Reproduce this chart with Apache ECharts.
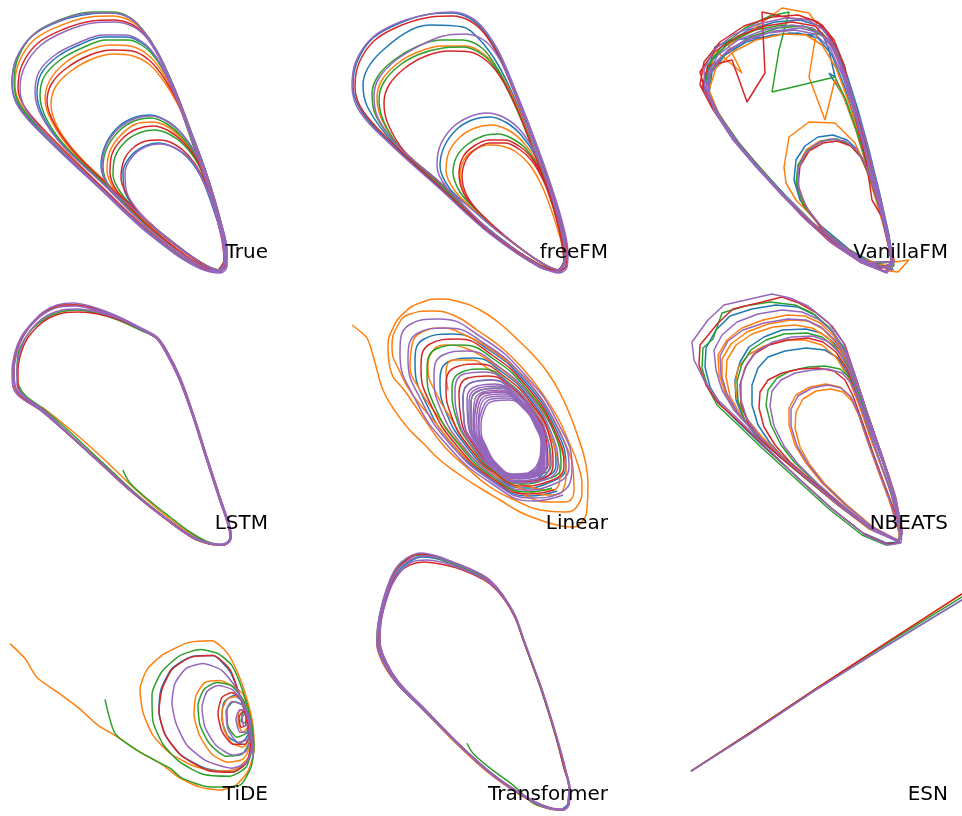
<!DOCTYPE html>
<html>
<head>
<meta charset="utf-8">
<script src="https://cdn.jsdelivr.net/npm/echarts@6/dist/echarts.min.js"></script>
<style>
html, body { margin: 0; padding: 0; background: #fff; }
#chart { width: 962px; height: 816px; }
</style>
</head>
<body>
<div id="chart"></div>
<script>
// trajectories, in page pixels (x right, y down)
var trueB = [[222,271],[200,268],[150,234],[100,188],[50,141],[20,108],[12,84],[16,60],[32,36],[60,21],[90,14],[111,13],[128,17],[141,28],[157,51],[173,85],[190,129],[207,175],[220,219],[227,252],[226,266],[219,271],
  [198,265],[150,229],[102,182],[64,146],[44,118],[37,94],[41,74],[57,57],[79,45],[104,37],[126,37],[146,46],[161,65],[176,96],[192,141],[208,187],[221,227],[226,257],[219,270],
  [200,262],[160,232],[130,206],[110,188],[101,166],[105,146],[117,128],[133,118],[150,115],[167,121],[182,134],[196,155],[208,186],[220,226],[225,256],[219,270],
  [200,262],[165,237],[139,213],[125,192],[123,172],[130,157],[143,147],[158,143],[173,147],[188,158],[201,177],[213,208],[223,243],[224,262],[218,270]];
var trueO = [[221,271],[199,267],[150,232],[100,186],[52,140],[23,108],[15,86],[19,62],[35,39],[62,25],[90,17],[112,16],[129,20],[143,31],[158,54],[174,87],[190,130],[207,176],[220,219],[226,251],[225,265],[219,271],
  [198,264],[150,228],[106,184],[72,151],[52,122],[45,99],[50,80],[65,63],[86,51],[110,45],[130,46],[148,55],[163,73],[178,102],[193,143],[209,188],[221,228],[225,257],[219,270],
  [200,262],[161,233],[134,208],[115,190],[107,170],[110,151],[121,135],[136,124],[152,122],[168,127],[183,140],[197,160],[209,190],[220,228],[225,257],[219,270],
  [198,264],[152,228],[111,187],[79,156],[58,128],[51,104],[56,86],[71,71],[92,59],[114,54],[133,56],[150,65],[165,83],[180,109],[194,147],[209,191],[221,230],[225,258],[218,270]];
var trueG = [[222,272],[200,268],[150,233],[100,187],[51,140],[21,107],[14,83],[18,58],[34,34],[62,19],[92,12],[113,12],[129,17],[142,29],[157,51],[173,85],[190,129],[207,175],[220,219],[226,251],[225,266],[219,271],
  [199,265],[150,229],[104,183],[67,148],[47,120],[40,96],[44,77],[60,60],[82,48],[106,40],[128,40],[147,49],[162,68],[177,99],[192,142],[208,187],[221,227],[226,257],[219,270],
  [200,262],[163,235],[137,211],[121,193],[113,175],[115,157],[125,142],[139,133],[154,130],[169,134],[184,145],[198,164],[210,194],[221,231],[225,258],[219,270],
  [200,262],[160,232],[131,207],[111,189],[103,167],[107,148],[119,131],[134,121],[151,118],[167,124],[182,137],[196,157],[208,188],[220,227],[225,257],[219,270]];
var trueR = [[221,271],[199,267],[150,232],[101,186],[54,140],[26,109],[18,88],[22,65],[38,43],[64,29],[92,21],[113,20],[131,24],[145,35],[159,57],[175,90],[191,132],[207,177],[220,220],[226,251],[225,265],[219,271],
  [198,264],[151,228],[108,185],[76,154],[55,125],[47,101],[52,83],[68,67],[90,55],[112,50],[132,51],[149,60],[164,78],[179,105],[194,145],[209,190],[221,229],[225,257],[219,270],
  [200,263],[166,238],[140,214],[127,195],[121,178],[124,160],[133,148],[146,141],[160,140],[174,144],[188,155],[201,174],[213,205],[222,240],[224,262],[218,270],
  [200,262],[162,234],[135,209],[117,191],[110,172],[112,154],[123,138],[137,129],[153,126],[169,131],[184,143],[198,162],[209,192],[220,230],[225,257],[219,270]];
var trueP = [[223,272],[201,269],[150,235],[100,189],[50,142],[19,108],[12,84],[16,59],[33,35],[61,20],[91,13],[112,13],[128,17],[141,28],[157,51],[173,85],[190,129],[207,175],[220,219],[227,252],[227,266],[220,273],
  [200,268],[150,233],[100,187],[52,141],[26,110],[20,88],[25,66],[41,45],[66,31],[93,23],[114,22],[132,26],[146,37],[160,59],[175,91],[191,133],[207,177],[220,220],[226,251],[226,265],[219,271],
  [199,265],[150,230],[101,182],[63,146],[42,117],[35,93],[39,72],[55,55],[78,43],[103,35],[125,35],[145,44],[160,63],[175,95],[192,140],[208,187],[221,227],[226,257],[219,270],
  [200,262],[160,232],[130,206],[110,188],[102,166],[106,146],[118,129],[134,119],[151,116],[168,122],[183,135],[197,156],[208,186],[220,226],[225,256],[219,270],
  [200,262],[166,238],[141,214],[127,193],[125,173],[132,157],[145,147],[160,144],[175,148],[190,159],[202,178],[214,209],[223,244],[224,263],[218,271]];

var freeB = [[562,271],[540,267],[490,233],[440,188],[390,143],[362,112],[353,86],[357,62],[373,38],[400,23],[430,14],[452,13],[469,18],[483,30],[499,55],[514,90],[531,133],[548,180],[561,222],[567,253],[566,266],[559,271],
  [540,266],[490,230],[440,186],[395,145],[368,108],[363,85],[383,50],[430,25],[463,27],[480,40],[497,63],[514,97],[531,140],[548,186],[561,226],[566,256],[559,270],
  [540,262],[500,233],[470,207],[450,189],[440,166],[444,147],[456,130],[472,120],[490,117],[507,123],[522,136],[536,157],[548,188],[560,227],[565,257],[559,270]];
var freeO = [[561,271],[539,266],[490,231],[442,186],[400,148],[382,120],[377,98],[382,80],[398,63],[418,52],[442,46],[466,46],[485,55],[500,73],[515,102],[532,145],[548,190],[561,229],[565,257],[559,270],
  [540,262],[503,235],[478,212],[465,195],[460,176],[464,160],[474,150],[488,145],[502,146],[516,152],[529,164],[541,184],[552,212],[562,245],[564,264],[558,270],
  [540,262],[501,234],[473,209],[455,191],[446,171],[449,152],[460,137],[475,128],[491,125],[508,130],[523,142],[537,162],[549,192],[560,229],[565,257],[559,270]];
var freeG = [[561,271],[539,266],[490,231],[443,187],[402,150],[384,122],[379,100],[384,82],[400,65],[420,54],[443,48],[463,47],[483,55],[498,72],[513,101],[531,144],[548,190],[561,229],[565,257],[559,270],
  [540,265],[490,231],[444,186],[398,146],[376,116],[372,94],[378,76],[394,60],[416,47],[440,40],[462,40],[482,48],[497,68],[513,100],[530,142],[548,189],[561,228],[565,257],[559,270],
  [540,262],[502,234],[476,210],[460,192],[453,172],[457,156],[468,144],[483,136],[498,134],[513,139],[527,150],[540,170],[551,200],[561,237],[564,262],[558,270]];
var freeR = [[562,271],[540,267],[490,232],[440,187],[392,143],[363,111],[355,87],[359,63],[375,40],[402,25],[431,17],[453,16],[470,21],[484,33],[499,57],[514,92],[531,135],[548,181],[561,223],[567,253],[566,266],[559,271],
  [540,265],[490,231],[446,188],[405,152],[388,124],[384,103],[389,85],[405,68],[426,56],[449,51],[470,52],[488,62],[503,81],[518,111],[534,152],[549,195],[561,232],[565,258],[559,270],
  [540,262],[505,236],[480,213],[467,196],[462,177],[466,160],[476,149],[490,143],[505,143],[519,149],[532,161],[544,182],[554,210],[562,243],[564,264],[558,270],
  [540,262],[504,235],[478,211],[464,194],[459,174],[463,157],[474,146],[489,140],[505,140],[519,146],[532,158],[544,179],[554,209],[562,243],[564,264],[558,270]];
var freeP = [[563,272],[541,268],[490,234],[440,189],[390,144],[360,112],[352,86],[356,61],[373,37],[400,22],[430,14],[452,12],[470,17],[484,29],[500,54],[515,89],[532,132],[549,179],[562,221],[568,253],[567,267],[560,273],
  [540,266],[490,231],[444,186],[400,148],[378,118],[374,96],[379,78],[396,60],[419,46],[443,36],[465,34],[485,41],[500,60],[515,93],[532,137],[549,185],[562,226],[566,256],[559,270],
  [540,262],[500,233],[468,206],[447,188],[437,166],[440,146],[452,128],[469,117],[487,113],[505,118],[521,131],[535,153],[548,185],[560,226],[565,257],[559,270]];

var vanB = [[893,268],[870,262],[840,245],[812,222],[785,195],[760,168],[738,142],[718,115],[706,92],[708,70],[715,47],[730,40],[765,37],[790,33],[812,35],[822,33],[829,50],[835,77],[829,73],[843,95],[856,130],[868,170],[880,210],[889,240],[894,262],
  [885,272],[860,262],[830,240],[800,212],[775,185],[750,158],[728,132],[712,105],[704,85],[710,63],[726,45],[748,30],[775,22],[800,20],[820,26],[835,45],[847,75],[858,110],[869,150],[880,195],[889,235],[893,262],
  [872,262],[842,246],[814,224],[787,198],[762,171],[740,145],[721,118],[709,95],[712,72],[725,55],[746,42],[772,35],[798,33],[818,38],[832,55],[845,88],[857,127],[868,168],[880,208],[889,243],[893,264],
  [880,268],[850,250],[820,225],[800,200],[794,180],[796,160],[805,146],[818,137],[833,135],[847,140],[858,150],[868,170],[878,200],[887,235],[893,262]];
var vanO = [[892,270],[866,261],[838,243],[808,219],[782,193],[758,167],[736,140],[718,112],[707,88],[715,50],[742,73],[728,45],[752,30],[782,8],[809,13],[819,27],[815,40],[809,77],[825,120],[835,80],[845,100],[857,133],[868,170],[879,208],[888,240],[895,262],[909,260],[898,272],[880,270],
  [852,254],[826,232],[806,210],[796,200],[786,183],[784,167],[789,137],[809,122],[835,123],[855,143],[865,165],[876,200],[886,235],[892,262],[885,272],
  [868,262],[838,244],[810,221],[784,195],[760,168],[738,142],[719,114],[709,90],[716,68],[733,52],[756,40],[783,34],[806,35],[822,45],[836,68],[848,100],[860,138],[872,180],[883,220],[891,250],[892,268],
  [855,256],[826,234],[805,206],[797,185],[798,166],[806,150],[820,141],[835,139],[849,144],[860,156],[870,178],[880,210],[889,242],[893,264]];
var vanG = [[893,269],[868,262],[838,244],[810,221],[783,194],[758,167],[735,140],[716,113],[703,88],[708,65],[722,46],[745,28],[770,16],[789,12],[779,50],[772,92],[835,77],[846,100],[858,135],[869,172],[880,210],[889,242],[893,263],[885,272],
  [862,262],[832,242],[804,217],[780,190],[756,163],[733,136],[714,108],[704,86],[712,60],[730,42],[755,30],[782,25],[806,27],[826,38],[840,60],[852,95],[864,138],[876,185],[887,230],[893,262],
  [870,264],[840,246],[811,222],[785,196],[761,170],[739,143],[720,116],[708,93],[711,70],[727,52],[750,37],[778,28],[803,26],[822,33],[837,52],[849,85],[861,125],[872,168],[882,208],[890,244],[894,266],
  [880,268],[848,250],[822,228],[803,205],[796,184],[798,165],[808,150],[822,141],[837,139],[850,145],[861,157],[870,178],[880,210],[888,242],[892,265]];
var vanR = [[892,270],[866,262],[837,244],[808,220],[781,193],[757,166],[734,139],[714,111],[702,87],[708,66],[732,60],[747,102],[765,73],[762,12],[790,18],[812,20],[822,25],[834,40],[845,67],[847,80],[856,120],[866,160],[872,200],[882,217],[887,240],[893,262],[886,272],
  [860,262],[830,242],[802,216],[778,190],[754,163],[731,136],[712,108],[700,85],[704,62],[720,42],[744,26],[772,17],[798,15],[818,22],[832,40],[844,70],[856,110],[868,155],[879,200],[888,238],[893,262],
  [866,263],[836,245],[808,221],[782,195],[758,168],[736,141],[717,113],[705,90],[700,72],[714,52],[738,36],[765,26],[792,22],[815,26],[830,42],[842,70],[854,108],[866,152],[878,197],[888,237],[893,263],
  [878,268],[846,249],[821,228],[805,205],[798,185],[800,166],[809,151],[823,143],[837,141],[851,146],[862,158],[871,180],[881,212],[888,243],[892,265]];
var vanP = [[894,270],[870,263],[840,246],[812,223],[785,196],[760,169],[737,142],[718,115],[705,92],[704,70],[714,50],[733,35],[758,24],[786,18],[808,20],[824,30],[836,50],[848,82],[860,120],[871,160],[881,200],[889,238],[894,262],[887,273],
  [865,264],[836,246],[808,222],[783,196],[759,170],[737,144],[719,118],[708,96],[710,74],[722,56],[742,42],[768,33],[795,30],[815,34],[830,48],[843,77],[855,115],[867,158],[878,200],[887,238],[892,263],
  [880,269],[850,252],[825,231],[808,210],[799,190],[798,170],[804,155],[816,144],[830,139],[845,141],[857,150],[867,168],[877,198],[886,233],[892,262],[886,272],
  [868,264],[838,245],[810,221],[784,195],[760,169],[738,143],[720,117],[709,94],[708,73],[718,55],[738,40],[764,30],[792,25],[813,28],[828,40],[841,66],[853,103],[865,146],[877,190],[887,232],[893,262],
  [862,263],[833,244],[805,219],[780,193],[756,167],[733,140],[715,112],[706,88],[712,66],[728,50],[750,38],[775,31],[800,28],[820,33],[834,50],[846,82],[858,122],[870,165],[881,207],[889,242],[892,266]];

var lstmB = [[210,544],[193,538],[167,520],[133,493],[100,463],[67,433],[40,410],[21,397],[14,387],[13,372],[16,352],[22,337],[31,325],[44,313],[58,306],[74,305],[94,309],[118,318],[143,330],[157,338],[167,352],[180,378],[193,414],[207,458],[220,498],[230,528],[231,538],[223,545],[210,544]];
var lstmO = [[42,407],[60,421],[85,442],[110,465],[135,489],[160,511],[185,530],[205,541],[222,545],[230,538],[229,525],[220,497],[207,457],[193,413],[180,377],[167,351],[157,337],[143,330],[117,317],[93,308],[73,305],[57,307],[43,314],[30,326],[21,339],[15,354],[13,372],[14,387],[20,397],[40,410],[67,433],[100,463],[133,493],[167,520],[193,538],[210,544],[224,545],[231,537]];
var lstmG = [[123,470],[130,483],[150,501],[170,517],[190,532],[208,542],[223,545],[230,537],[229,526],[219,497],[206,457],[192,413],[179,377],[166,351],[156,338],[142,331],[118,320],[96,313],[77,310],[60,312],[46,318],[33,328],[24,340],[18,355],[17,372],[19,386],[26,396],[45,410],[70,432],[102,462],[134,492],[167,519],[193,537],[210,544]];
var lstmR = [[210,544],[193,538],[167,520],[133,493],[100,463],[67,433],[41,410],[22,397],[15,386],[14,370],[17,351],[24,335],[34,322],[47,311],[62,305],[78,305],[97,309],[120,318],[144,330],[157,338],[167,352],[180,378],[193,414],[207,458],[220,498],[230,528],[231,538],[223,545],[210,544],
  [193,537],[167,519],[133,492],[100,462],[67,432],[42,409],[24,396],[18,385],[18,370],[21,353],[27,339],[37,327],[49,318],[63,313],[79,312],[98,314],[120,320],[144,331],[157,339],[166,353],[179,379],[192,414],[206,458],[219,498],[229,528],[230,538]];
var lstmP = [[210,544],[193,538],[167,520],[133,493],[100,463],[67,433],[40,410],[20,397],[13,387],[12,372],[15,352],[21,337],[30,325],[43,312],[57,305],[73,303],[93,307],[117,316],[143,329],[157,337],[167,351],[180,377],[193,413],[207,457],[220,497],[230,527],[231,538],[223,545],[210,544],
  [193,537],[167,519],[133,492],[100,462],[67,432],[42,409],[24,396],[17,385],[17,370],[20,352],[26,337],[36,324],[48,315],[62,310],[78,309],[97,312],[120,319],[144,331],[157,339],[166,353],[179,379],[192,414],[206,458],[219,498],[229,528],[230,538],[222,544],[210,543],
  [193,537],[167,519],[133,492],[100,462],[67,432],[41,409],[22,396],[15,386],[14,371],[17,352],[23,336],[33,323],[45,313],[60,307],[76,306],[95,310],[118,317],[143,330],[157,338],[167,352],[180,378],[193,413],[207,457],[220,497],[230,527],[231,538],[223,545]];

var linB = [[557,491],[529,496],[492,480],[454,446],[426,403],[415,363],[424,339],[452,334],[489,350],[527,384],[555,427],[566,466],
  [546,484],[523,488],[494,474],[466,446],[446,412],[440,381],[450,361],[473,358],[502,372],[530,399],[550,434],[556,465],
  [537,479],[518,481],[496,470],[477,447],[464,421],[463,397],[473,382],[492,380],[513,391],[533,413],[545,440],[547,464],[537,479]];
var linO = [[352,325],[362,333],[367,338],[372,352],[377,370],[383,390],[393,408],[407,427],[423,443],[440,460],[460,475],[480,488],[500,500],[520,512],[540,520],[557,525],[572,527],[582,522],[587,508],[588,485],[585,460],[578,437],[570,415],[560,393],[548,373],[535,357],[518,340],[498,322],[480,310],[460,302],[440,299],[420,303],[405,312],[393,328],[388,348],[390,368],
  [407,394],[425,420],[443,445],[465,466],[490,487],[515,500],[540,510],[565,512],[578,505],[582,488],[578,465],[568,440],[558,418],[542,393],[524,370],[502,348],[477,330],[455,316],[432,311],[410,314],[398,325],[392,347],
  [400,372],[415,398],[435,422],[453,445],[475,466],[498,482],[522,494],[548,502],[565,502],[574,490],[573,468],[565,443],[553,418],[535,390],[515,368],[490,349],[465,335],[442,328],[422,332],[412,345],[410,365],
  [420,390],[437,415],[456,440],[477,462],[500,478],[525,490],[550,495],[563,490],[566,470],[560,446],[548,420],[530,395],[510,376],[488,360],[465,348],[445,345],[432,352],[428,368],
  [437,395],[452,420],[466,443],[486,463],[508,478],[530,487],[552,490],[560,476],[556,452],[547,428],[530,404],[510,385],[490,370],[470,360],[454,360],[446,372],[448,390]];
var linG = [[552,488],[527,492],[493,477],[460,446],[435,407],[427,372],[436,349],[461,345],[495,360],[528,391],[553,430],[561,466],
  [541,481],[521,484],[495,472],[472,447],[456,417],[452,389],[462,372],[482,369],[508,382],[531,407],[547,437],[551,465],
  [533,476],[516,478],[497,468],[481,448],[471,424],[471,402],[481,390],[499,388],[518,398],[534,418],[544,442],[543,464],[533,476]];
var linR = [[554,490],[528,494],[493,479],[457,446],[431,405],[421,368],[430,344],[457,339],[492,355],[528,388],[554,429],[564,466],
  [544,483],[522,486],[495,473],[469,447],[451,415],[446,385],[456,367],[478,364],[505,377],[531,403],[549,435],[553,465],
  [539,480],[519,482],[496,470],[475,447],[461,419],[459,394],[468,378],[488,376],[511,387],[532,411],[546,438],[548,464],
  [532,475],[515,477],[497,467],[483,448],[474,426],[476,405],[486,393],[502,392],[520,402],[534,421],[543,443],[541,463],[532,475]];
var linP = [[563,495],[533,501],[491,483],[447,445],[414,397],[400,353],[409,325],[439,319],[481,337],[525,375],[558,423],[572,467],
  [560,493],[531,498],[492,481],[451,445],[421,400],[408,359],[418,333],[446,328],[485,344],[526,380],[556,425],[569,467],
  [549,486],[525,490],[494,476],[463,446],[441,410],[434,376],[443,355],[467,351],[498,366],[529,395],[551,432],[558,465],
  [540,481],[520,483],[496,471],[473,447],[458,418],[455,391],[464,374],[485,372],[509,384],[532,408],[547,437],[550,464],
  [537,479],[518,481],[496,470],[477,447],[464,421],[463,397],[473,382],[492,380],[513,391],[533,413],[545,440],[547,464],
  [535,477],[517,479],[497,469],[479,447],[468,423],[467,399],[477,386],[495,384],[515,395],[533,416],[544,441],[545,464],
  [534,477],[517,479],[497,468],[480,447],[469,423],[469,401],[479,388],[497,386],[516,396],[533,417],[544,441],[544,464],
  [533,476],[516,478],[497,468],[481,448],[471,424],[471,402],[481,390],[499,388],[518,398],[534,418],[544,442],[543,464],
  [532,476],[516,477],[497,467],[482,448],[473,425],[474,404],[483,392],[500,390],[519,400],[534,420],[543,442],[542,464],
  [532,475],[515,477],[497,467],[483,448],[474,426],[476,405],[486,393],[502,392],[520,402],[534,421],[543,443],[541,463],
  [531,475],[515,476],[497,466],[484,448],[476,427],[478,407],[488,395],[504,394],[521,404],[534,422],[542,443],[541,463],
  [530,474],[514,475],[498,466],[485,448],[478,427],[480,408],[490,397],[506,396],[522,405],[535,423],[542,444],[540,463],
  [529,474],[513,475],[498,465],[486,448],[479,428],[482,410],[492,399],[507,398],[523,407],[535,425],[541,444],[539,463],
  [528,473],[513,474],[498,465],[487,448],[481,429],[484,411],[494,401],[509,400],[524,409],[535,426],[541,445],[538,463],[528,473]];

var nbB = [[900,542],[886,543],[863,533],[830,507],[797,477],[763,446],[738,422],[720,404],[710,387],[705,367],[706,348],[716,330],[730,316],[752,309],[776,305],[798,307],[815,315],[831,330],[845,350],[857,382],[868,415],[879,448],[890,480],[897,510],[902,534],
  [899,541],[869,528],[837,504],[806,478],[778,455],[757,437],[744,420],[736,400],[735,380],[740,362],[749,347],[764,337],[782,330],[806,329],[821,333],[834,343],[846,360],[857,388],[868,420],[881,455],[893,492],[901,528],
  [899,541],[869,527],[838,503],[810,480],[786,460],[770,443],[758,425],[752,405],[752,385],[758,368],[768,357],[785,351],[806,348],[825,350],[838,358],[848,374],[858,400],[868,428],[880,462],[893,497],[901,530]];
var nbO = [[898,541],[870,529],[840,507],[808,480],[778,453],[752,430],[736,412],[725,393],[719,374],[718,355],[727,340],[742,328],[763,320],[787,315],[805,316],[820,323],[834,336],[847,358],[859,390],[871,424],[884,461],[896,498],[902,530],
  [898,541],[869,529],[839,506],[807,479],[777,453],[753,431],[737,413],[727,395],[722,377],[722,359],[731,344],[747,332],[768,324],[791,320],[808,321],[823,329],[836,343],[849,366],[860,397],[872,430],[885,466],[896,501],[902,532],
  [898,541],[869,528],[838,505],[806,478],[777,452],[755,432],[740,414],[730,396],[726,377],[727,360],[736,345],[752,334],[773,327],[795,325],[812,328],[827,337],[840,352],[851,374],[862,403],[873,434],[885,468],[896,502],[901,532],
  [898,540],[868,527],[836,503],[806,477],[780,454],[762,437],[748,420],[738,402],[735,385],[738,368],[748,355],[764,346],[785,340],[805,340],[822,345],[836,357],[848,377],[859,405],[870,437],[883,471],[895,505],[901,534],
  [899,541],[872,527],[845,505],[822,483],[806,463],[795,445],[789,425],[789,408],[796,395],[810,387],[826,384],[840,387],[850,396],[858,413],[866,437],[877,468],[889,500],[899,532],
  [899,541],[873,527],[847,505],[825,484],[810,465],[800,447],[795,428],[796,412],[803,399],[816,391],[831,389],[843,392],[852,401],[860,418],[868,441],[878,470],[890,502],[899,533]];
var nbG = [[899,543],[886,545],[862,535],[829,509],[796,479],[762,448],[736,423],[717,405],[708,388],[702,368],[703,348],[713,339],[722,313],[745,306],[770,302],[795,305],[812,313],[830,328],[844,348],[856,380],[867,413],[878,446],[889,478],[897,508],[902,533],
  [899,541],[869,528],[837,504],[806,479],[779,456],[758,438],[745,421],[738,401],[737,381],[742,364],[751,350],[766,340],[784,334],[807,333],[822,337],[835,347],[847,364],[858,392],[869,423],[882,458],[894,494],[901,529],
  [899,541],[870,527],[841,504],[815,482],[795,463],[781,445],[771,425],[766,405],[768,390],[777,378],[790,371],[808,367],[825,366],[840,369],[850,378],[858,398],[867,425],[878,456],[890,490],[900,527]];
var nbR = [[900,543],[887,544],[864,534],[831,508],[798,478],[764,446],[738,421],[718,403],[706,385],[699,365],[700,345],[718,323],[733,309],[762,302],[782,297],[799,303],[815,312],[832,326],[845,345],[856,378],[867,412],[878,444],[889,477],[897,507],[902,532],
  [899,541],[869,528],[838,505],[808,480],[781,458],[761,440],[748,423],[741,404],[740,385],[745,368],[754,354],[769,345],[788,340],[808,338],[823,342],[836,352],[847,369],[858,396],[869,426],[882,460],[894,495],[901,529],
  [899,541],[869,527],[839,504],[812,481],[790,462],[775,445],[764,427],[759,408],[760,392],[768,380],[782,373],[800,369],[818,368],[834,371],[845,380],[853,396],[862,421],[872,450],[884,483],[896,515],[901,533]];
var nbP = [[901,543],[888,545],[865,535],[832,509],[799,479],[766,447],[740,421],[718,400],[704,380],[694,360],[692,342],[708,320],[724,305],[772,294],[790,298],[808,306],[828,322],[843,342],[855,375],[866,410],[877,442],[888,475],[896,505],[902,530],[901,543],
  [900,541],[872,530],[842,508],[810,481],[779,454],[752,430],[734,410],[722,390],[716,370],[714,350],[722,335],[737,322],[758,314],[782,310],[802,312],[818,319],[833,332],[846,354],[858,386],[870,421],[883,458],[895,495],[902,530],
  [899,541],[871,529],[841,507],[809,480],[779,454],[754,432],[738,413],[727,394],[721,375],[720,356],[728,341],[743,330],[764,323],[788,319],[806,320],[821,327],[835,340],[848,362],[860,393],[871,426],[884,462],[896,499],[902,531],
  [899,541],[869,528],[838,504],[807,478],[780,455],[760,437],[747,419],[741,400],[741,381],[747,364],[757,351],[773,342],[792,337],[813,336],[827,341],[839,352],[849,370],[859,398],[870,428],[883,463],[895,498],[901,530],
  [899,541],[870,527],[842,505],[817,483],[798,464],[784,446],[774,426],[770,406],[772,391],[781,380],[795,373],[812,370],[828,369],[842,373],[851,383],[859,402],[868,428],[879,459],[891,492],[900,528],
  [899,541],[872,527],[846,505],[824,484],[808,464],[797,446],[791,426],[791,409],[798,396],[812,388],[828,385],[841,388],[851,397],[859,415],[867,439],[878,469],[890,501],[900,534]];

var tideB = [[250,745],[247,722],[240,697],[230,672],[213,656],[192,657],[172,669],[161,690],[159,712],[165,735],[180,755],[205,769],[232,773],[247,762],[252,742],[249,720],[243,703],[234,696],[224,703],[222,720],[228,737],[240,744],[248,735],[248,720],[244,714]];
var tideO = [[10,644],[25,659],[37,678],[62,696],[78,708],[98,726],[115,736],[140,753],[163,766],[180,779],[200,788],[220,791],[236,786],[248,772],[254,750],[253,726],[247,700],[238,674],[227,653],[212,641],[188,643],[163,655],[147,670],[140,690],[143,713],[153,736],[170,754],[192,766],[215,772],[236,770],[249,757],[253,737],[250,713],[243,695],[233,687],[220,681],[205,683],[196,696],[194,715],[200,737],[212,755],[228,763],[243,760],[251,745],[252,725],[247,706],[239,697],[228,699],[222,712],[224,730],[232,744],[243,748],[250,737],[250,720],[245,710],[239,712],[238,724],[243,733],[248,727],[247,719]];
var tideG = [[105,700],[115,734],[140,753],[170,769],[182,779],[210,788],[240,786],[251,768],[254,746],[251,721],[243,692],[232,666],[218,654],[200,650],[180,656],[162,672],[152,695],[153,722],[163,745],[180,763],[203,775],[230,777],[246,768],[252,748],[250,723],[243,700],[231,686],[217,683],[204,690],[198,706],[200,726],[210,745],[226,757],[242,755],[250,740],[250,721],[244,707],[234,702],[227,710],[228,727],[237,738],[247,733],[248,720],[243,713],[241,722],[246,724]];
var tideR = [[252,748],[248,724],[240,697],[230,670],[213,656],[190,658],[172,670],[162,690],[159,712],[165,735],[181,756],[207,771],[233,773],[247,763],[251,740],[248,717],[241,700],[232,693],[222,698],[218,714],[222,732],[233,745],[245,745],[250,732],[248,718],[243,712],[239,718],[241,728],[246,726],[246,719]];
var tideP = [[253,760],[252,738],[247,715],[237,690],[222,671],[203,664],[186,669],[175,684],[172,703],[176,724],[187,746],[207,762],[232,769],[247,763],[252,745],[250,722],[243,703],[232,690],[218,686],[207,692],[202,708],[205,728],[216,746],[233,756],[246,752],[251,736],[249,717],[242,705],[232,702],[226,712],[228,730],[238,743],[248,740],[251,726],[247,712],[240,710],[236,720],[240,733],[248,733],[250,722],[246,714],[242,718],[244,727],[249,724],[247,718]];

var tfB = [[563,811],[547,808],[523,796],[490,773],[457,743],[424,709],[398,683],[385,663],[379,644],[380,625],[384,606],[390,588],[398,572],[409,562],[422,557],[438,559],[455,565],[472,572],[488,581],[502,596],[515,617],[524,642],[533,667],[542,692],[550,717],[558,744],[565,771],[569,790],[568,804],[562,810]];
var tfO = [[562,811],[546,809],[522,797],[489,774],[456,744],[423,710],[397,684],[383,664],[377,645],[378,626],[382,607],[388,589],[395,574],[403,562],[414,555],[430,556],[447,561],[465,568],[482,576],[498,590],[512,611],[522,636],[531,661],[541,687],[549,713],[557,740],[564,768],[569,789],[568,804]];
var tfG = [[467,744],[473,754],[490,769],[513,786],[533,804],[548,809],[563,811],[569,804],[569,789],[564,769],[557,742],[549,715],[541,690],[532,665],[523,640],[514,615],[501,594],[487,579],[471,571],[454,564],[436,558],[420,555],[407,559],[396,569],[388,586],[382,605],[378,625],[377,644],[384,664],[397,684],[423,710],[457,744],[490,774]];
var tfR = [[563,811],[547,809],[523,797],[490,774],[457,744],[423,710],[397,684],[384,664],[378,644],[379,625],[383,605],[389,586],[397,570],[407,560],[419,554],[434,556],[452,562],[470,569],[487,578],[501,593],[514,614],[523,639],[532,664],[541,689],[549,714],[557,741],[564,769],[570,790],[569,805],[563,811],
  [547,808],[523,796],[490,773],[457,743],[424,709],[399,683],[386,662],[380,642],[381,622],[385,603],[391,586],[399,573],[410,565],[424,562],[440,564],[457,568],[474,575],[490,584],[504,599],[516,620],[525,645],[534,669],[543,694],[551,719],[559,746],[566,772],[570,791],[568,805]];
var tfP = [[563,811],[547,809],[523,797],[490,774],[457,744],[423,710],[397,684],[384,664],[377,644],[378,625],[382,605],[388,585],[396,568],[407,558],[421,553],[437,556],[455,563],[472,570],[488,579],[502,594],[515,615],[524,640],[533,665],[542,690],[550,715],[558,742],[565,770],[570,790],[569,805],[563,811],
  [547,808],[523,796],[490,773],[457,743],[424,709],[399,683],[386,662],[380,642],[381,622],[386,602],[392,585],[401,571],[412,562],[426,560],[441,562],[457,567],[474,574],[490,583],[504,598],[516,619],[525,644],[534,668],[543,693],[551,718],[559,745],[566,772],[570,791],[568,805],[562,810],
  [546,808],[522,796],[489,773],[456,743],[423,709],[398,684],[385,664],[379,645],[379,626],[383,606],[389,587],[397,571],[408,561],[423,556],[439,558],[456,564],[473,571],[489,580],[503,595],[515,616],[524,641],[533,666],[542,691],[550,716],[558,743],[565,770],[569,789],[568,804]];

var esnB = [[691,772],[749,735],[815,691],[882,649],[962,600]];
var esnO = [[691,772],[749,734],[815,690],[882,646],[962,594]];
var esnG = [[691,772],[749,734],[815,690],[882,647],[962,597]];
var esnR = [[691,772],[749,734],[815,690],[882,646],[962,594]];
var esnP = [[691,772],[749,735],[815,691],[882,649],[962,600]];

var names = ['True', 'freeFM', 'VanillaFM', 'LSTM', 'Linear', 'NBEATS', 'TiDE', 'Transformer', 'ESN'];
var colors = ['#1f77b4', '#ff7f0e', '#2ca02c', '#d62728', '#9467bd'];

var panels = [
  {smooth: 0.35, lines: [trueB, trueO, trueG, trueR, trueP]},
  {smooth: 0.35, lines: [freeB, freeO, freeG, freeR, freeP]},
  {smooth: false, lines: [vanB, vanO, vanG, vanR, vanP]},
  {smooth: 0.35, lines: [lstmB, lstmO, lstmG, lstmR, lstmP]},
  {smooth: 0.5, lines: [linB, linO, linG, linR, linP]},
  {smooth: false, lines: [nbB, nbO, nbG, nbR, nbP]},
  {smooth: 0.2, lines: [tideB, tideO, tideG, tideR, tideP]},
  {smooth: 0.35, lines: [tfB, tfO, tfG, tfR, tfP]},
  {smooth: false, lines: [esnB, esnO, esnG, esnR, esnP]}
];

var colLeft = [10, 351, 691], rowTop = [6, 277, 548];
var cellW = 271, cellH = 269;
var labelX = [268, 608, 948], labelY = [253, 524, 795];

var grid = [], xAxis = [], yAxis = [], series = [], graphic = [];
panels.forEach(function (p, i) {
    var c = i % 3, r = Math.floor(i / 3);
    grid.push({left: colLeft[c], top: rowTop[r], width: cellW, height: cellH});
    xAxis.push({type: 'value', gridIndex: i, min: colLeft[c], max: colLeft[c] + cellW, show: false});
    yAxis.push({type: 'value', gridIndex: i, min: rowTop[r], max: rowTop[r] + cellH, inverse: true, show: false});
    p.lines.forEach(function (d, k) {
        series.push({
            type: 'line',
            xAxisIndex: i,
            yAxisIndex: i,
            data: d,
            showSymbol: false,
            symbol: 'none',
            smooth: p.smooth,
            clip: true,
            silent: true,
            lineStyle: {width: 1.5, color: colors[k]},
            itemStyle: {color: colors[k]}
        });
    });
    graphic.push({
        type: 'text',
        x: labelX[c],
        y: labelY[r],
        z: 100,
        style: {
            text: names[i],
            font: '20px "DejaVu Sans"',
            fill: '#000',
            textAlign: 'right',
            textVerticalAlign: 'middle'
        }
    });
});

var myChart = echarts.init(document.getElementById('chart'));
var option = {
    animation: false,
    backgroundColor: '#fff',
    grid: grid,
    xAxis: xAxis,
    yAxis: yAxis,
    series: series,
    graphic: graphic
};
myChart.setOption(option, true);
window.onresize = myChart.resize;
</script>
</body>
</html>
